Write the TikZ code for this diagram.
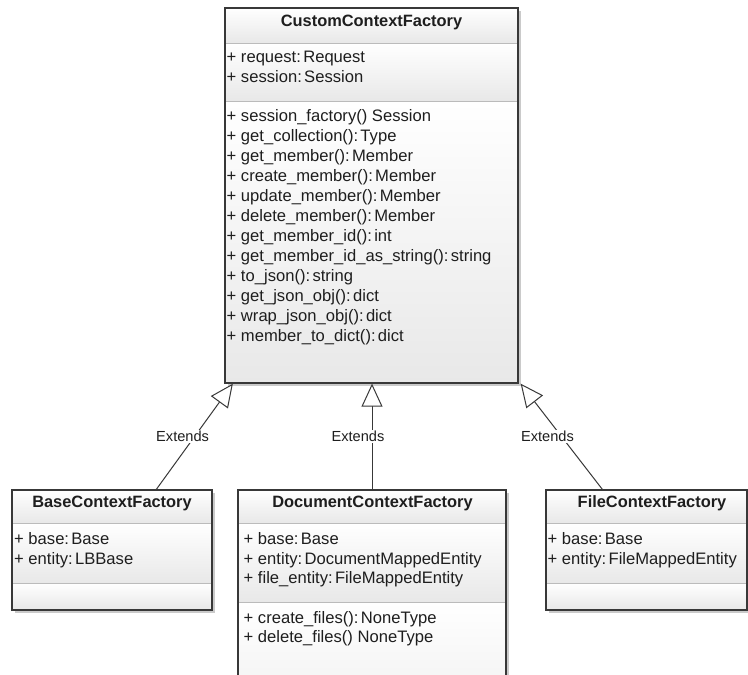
\documentclass[tikz,border=0pt]{standalone}
\usepackage{fontspec}
\setmainfont{Liberation Sans}
\usetikzlibrary{arrows.meta,calc}
\newcommand\cl{:\hspace{0.14em}}
\definecolor{bordercol}{HTML}{383838}
\definecolor{sepcol}{HTML}{BBBBBB}
\definecolor{txtcol}{HTML}{1E1E1E}
\definecolor{shadowcol}{HTML}{CACACA}
\begin{document}
\begin{tikzpicture}[x=1pt,y=-1pt,
  compart/.style={shading=axis, top color=white, bottom color=black!9, draw=none},
  sepline/.style={draw=sepcol, line width=1pt},
  classbox/.style={draw=bordercol, line width=1.3pt, rectangle, inner sep=0pt},
  shadowbox/.style={fill=shadowcol, draw=none},
  title/.style={font=\fontsize{16.4}{19}\selectfont\bfseries, text=txtcol, anchor=mid, inner sep=0pt},
  member/.style={font=\fontsize{16.6}{19}\selectfont, text=txtcol, anchor=mid west, inner sep=0pt},
  ext/.style={draw=bordercol, line width=1pt, -{Triangle[open,length=23pt,width=21pt,fill=white]}},
  lbl/.style={font=\fontsize{14.6}{16}\selectfont, text=txtcol, fill=white, inner sep=1.5pt},
]
\useasboundingbox (0,0) rectangle (748,675);
\clip (0,0) rectangle (748,675);
\fill[white] (0,0) rectangle (748,675);

% shadows
\fill[shadowbox] (227.5,10.5) rectangle (520.5,385.5);
\fill[shadowbox] (14.5,492.5) rectangle (214.5,612.5);
\fill[shadowbox] (240.5,492.5) rectangle (508.5,700);
\fill[shadowbox] (548.5,492.5) rectangle (749.5,612.5);

% CustomContextFactory compartments
\fill[compart] (225,8) rectangle (518,43);
\fill[compart] (225,43) rectangle (518,101);
\fill[compart] (225,101) rectangle (518,383);
\draw[sepline] (225,43) -- (518,43);
\draw[sepline] (225,101) -- (518,101);
% BaseContextFactory
\fill[compart] (12,490) rectangle (212,523);
\fill[compart] (12,523) rectangle (212,583);
\fill[compart] (12,583) rectangle (212,610);
\draw[sepline] (12,523) -- (212,523);
\draw[sepline] (12,583) -- (212,583);
% DocumentContextFactory
\fill[compart] (238,490) rectangle (506,523);
\fill[compart] (238,523) rectangle (506,602);
\fill[compart,bottom color=black!5] (238,602) rectangle (506,700);
\draw[sepline] (238,523) -- (506,523);
\draw[sepline] (238,602) -- (506,602);
% FileContextFactory
\fill[compart] (546,490) rectangle (747,523);
\fill[compart] (546,523) rectangle (747,583);
\fill[compart] (546,583) rectangle (747,610);
\draw[sepline] (546,523) -- (747,523);
\draw[sepline] (546,583) -- (747,583);

% class frames
\node[classbox, minimum width=293pt, minimum height=375pt] (ccf) at (371.5,195.5) {};
\node[classbox, minimum width=200pt, minimum height=120pt] (bcf) at (112,550) {};
\node[classbox, minimum width=268pt, minimum height=210pt] (dcf) at (372,595) {};
\node[classbox, minimum width=201pt, minimum height=120pt] (fcf) at (646.5,550) {};

% titles
\node[title] (ccft) at (371.5,23.6) {CustomContextFactory};
\node[title] (bcft) at (112,504.6) {BaseContextFactory};
\node[title] (dcft) at (372.5,504.6) {DocumentContextFactory};
\node[title] (fcft) at (652,504.6) {FileContextFactory};

% CustomContextFactory members
\node[member] (ccfa1) at (226.5,60) {+ request\cl Request};
\node[member] (ccfa2) at (226.5,80) {+ session\cl Session};
\foreach \t [count=\i] in {%
  + session\_factory() Session,
  + get\_collection()\cl Type,
  + get\_member()\cl Member,
  + create\_member()\cl Member,
  + update\_member()\cl Member,
  + delete\_member()\cl Member,
  + get\_member\_id()\cl int,
  + get\_member\_id\_as\_string()\cl string,
  + to\_json()\cl string,
  + get\_json\_obj()\cl dict,
  + wrap\_json\_obj()\cl dict,
  + member\_to\_dict()\cl dict}
  \node[member, name=ccfm\i] at (226.5,{99+20*\i}) {\t};

% BaseContextFactory members
\node[member] (bcfa1) at (14,542) {+ base\cl Base};
\node[member] (bcfa2) at (14,561.5) {+ entity\cl LBBase};

% DocumentContextFactory members
\node[member] (dcfa1) at (243.5,542) {+ base\cl Base};
\node[member] (dcfa2) at (243.5,561.5) {+ entity\cl DocumentMappedEntity};
\node[member] (dcfa3) at (243.5,581) {+ file\_entity\cl FileMappedEntity};
\node[member] (dcfm1) at (243.5,620.5) {+ create\_files()\cl NoneType};
\node[member] (dcfm2) at (243.5,640) {+ delete\_files() NoneType};

% FileContextFactory members
\node[member] (fcfa1) at (547.5,542) {+ base\cl Base};
\node[member] (fcfa2) at (547.5,561.5) {+ entity\cl FileMappedEntity};

% generalisations
\draw[ext] ([xshift=145pt]bcf.north west) -- node[lbl, xshift=-12pt] (l1) {Extends} ([xshift=8.5pt]ccf.south west);
\draw[ext] (dcf.north) -- node[lbl, xshift=-14pt] (l2) {Extends} (dcf.north |- ccf.south);
\draw[ext] ([xshift=57pt]fcf.north west) -- node[lbl, xshift=-14pt] (l3) {Extends} ([xshift=2pt]ccf.south east);
\end{tikzpicture}
\end{document}
